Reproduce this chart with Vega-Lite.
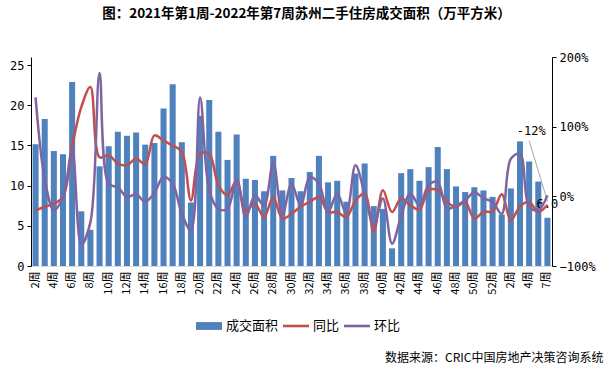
{
  "$schema": "https://vega.github.io/schema/vega-lite/v6.json",
  "width": 521,
  "height": 209,
  "autosize": {"type": "none"},
  "padding": {"left": 31, "top": 57, "right": 58, "bottom": 116},
  "background": "white",
  "title": {
    "text": "图：2021年第1周-2022年第7周苏州二手住房成交面积（万平方米）",
    "font": "Noto Sans CJK SC",
    "fontSize": 13.5,
    "fontWeight": "bold",
    "color": "#000000",
    "anchor": "middle",
    "frame": "group",
    "dx": 15,
    "offset": 31
  },
  "datasets": {
    "weeks": [
      {"cat": "2021-02", "area": 15.15, "同比": -0.20, "环比": 1.42},
      {"cat": "2021-03", "area": 18.3, "同比": -0.15, "环比": 0.25},
      {"cat": "2021-04", "area": 14.3, "同比": -0.105, "环比": -0.20},
      {"cat": "2021-05", "area": 13.9, "同比": -0.01, "环比": -0.01},
      {"cat": "2021-06", "area": 22.9, "同比": 0.71, "环比": 0.66},
      {"cat": "2021-07", "area": 6.8, "同比": 1.28, "环比": -0.69},
      {"cat": "2021-08", "area": 4.5, "同比": 1.57, "环比": -0.37},
      {"cat": "2021-09", "area": 12.4, "同比": 0.56, "环比": 1.77},
      {"cat": "2021-10", "area": 14.9, "同比": 0.59, "环比": 0.18},
      {"cat": "2021-11", "area": 16.7, "同比": 0.47, "环比": 0.13},
      {"cat": "2021-12", "area": 16.2, "同比": 0.445, "环比": -0.01},
      {"cat": "2021-13", "area": 16.6, "同比": 0.54, "环比": 0.03},
      {"cat": "2021-14", "area": 15.1, "同比": 0.46, "环比": -0.08},
      {"cat": "2021-15", "area": 15.3, "同比": 0.875, "环比": 0.05},
      {"cat": "2021-16", "area": 19.6, "同比": 0.80, "环比": 0.28},
      {"cat": "2021-17", "area": 22.6, "同比": 0.73, "环比": 0.18},
      {"cat": "2021-18", "area": 15.4, "同比": 0.64, "环比": -0.25},
      {"cat": "2021-19", "area": 7.9, "同比": -0.06, "环比": -0.49},
      {"cat": "2021-20", "area": 18.7, "同比": 0.61, "环比": 1.42},
      {"cat": "2021-21", "area": 20.65, "同比": 0.61, "环比": 0.09},
      {"cat": "2021-22", "area": 16.7, "同比": 0.16, "环比": -0.18},
      {"cat": "2021-23", "area": 13.2, "同比": 0.014, "环比": -0.18},
      {"cat": "2021-24", "area": 16.35, "同比": 0.23, "环比": 0.25},
      {"cat": "2021-25", "area": 10.85, "同比": -0.20, "环比": -0.30},
      {"cat": "2021-26", "area": 10.7, "同比": -0.105, "环比": 0.014},
      {"cat": "2021-27", "area": 9.3, "同比": -0.30, "环比": -0.13},
      {"cat": "2021-28", "area": 13.7, "同比": -0.01, "环比": 0.49},
      {"cat": "2021-29", "area": 9.4, "同比": -0.32, "环比": -0.27},
      {"cat": "2021-30", "area": 10.95, "同比": -0.25, "环比": 0.18},
      {"cat": "2021-31", "area": 9.3, "同比": -0.15, "环比": -0.13},
      {"cat": "2021-32", "area": 11.7, "同比": -0.08, "环比": 0.277},
      {"cat": "2021-33", "area": 13.7, "同比": -0.01, "环比": 0.18},
      {"cat": "2021-34", "area": 10.4, "同比": -0.225, "环比": -0.225},
      {"cat": "2021-35", "area": 10.6, "同比": -0.225, "环比": 0.04},
      {"cat": "2021-36", "area": 8.0, "同比": -0.30, "环比": -0.25},
      {"cat": "2021-37", "area": 11.5, "同比": -0.06, "环比": 0.445},
      {"cat": "2021-38", "area": 12.75, "同比": 0.04, "环比": 0.04},
      {"cat": "2021-39", "area": 7.45, "同比": -0.51, "环比": -0.416},
      {"cat": "2021-40", "area": 7.1, "同比": 0.086, "环比": -0.03},
      {"cat": "2021-41", "area": 2.2, "同比": -0.225, "环比": -0.68},
      {"cat": "2021-42", "area": 11.55, "同比": -0.03, "环比": -0.28},
      {"cat": "2021-43", "area": 12.05, "同比": -0.13, "环比": 0.04},
      {"cat": "2021-44", "area": 10.6, "同比": -0.19, "环比": -0.13},
      {"cat": "2021-45", "area": 12.3, "同比": 0.086, "环比": 0.16},
      {"cat": "2021-46", "area": 14.8, "同比": 0.086, "环比": 0.205},
      {"cat": "2021-47", "area": 12.05, "同比": -0.08, "环比": -0.177},
      {"cat": "2021-48", "area": 9.9, "同比": -0.15, "环比": -0.13},
      {"cat": "2021-49", "area": 9.2, "同比": -0.08, "环比": -0.06},
      {"cat": "2021-50", "area": 9.8, "同比": -0.32, "环比": 0.06},
      {"cat": "2021-51", "area": 9.4, "同比": -0.225, "环比": -0.03},
      {"cat": "2021-52", "area": 8.6, "同比": -0.215, "环比": -0.08},
      {"cat": "2022-01", "area": 6.4, "同比": 0.03, "环比": -0.25},
      {"cat": "2022-02", "area": 9.65, "同比": -0.345, "环比": 0.54},
      {"cat": "2022-03", "area": 15.5, "同比": -0.144, "环比": 0.61},
      {"cat": "2022-04", "area": 13.0, "同比": -0.08, "环比": -0.15},
      {"cat": "2022-05", "area": 10.5, "同比": -0.225, "环比": -0.20},
      {"cat": "2022-07", "area": 6.0, "同比": -0.12, "环比": 0.014}
    ],
    "ann": [
      {"cat": "2022-05", "pos": 0.94, "label": "-12%"}
    ],
    "leader": [
      {"cat": "2022-04", "pos": 0.80},
      {"cat": "2022-07", "pos": -0.07}
    ]
  },
  "layer": [
    {
      "data": {"name": "weeks"},
      "layer": [
        {
          "mark": {"type": "bar", "color": "#4F81BD"},
          "encoding": {
            "x": {
              "field": "cat",
              "type": "ordinal",
              "sort": "ascending",
              "scale": {"paddingInner": 0.34, "paddingOuter": 0.17},
              "axis": {
                "values": ["2021-02","2021-04","2021-06","2021-08","2021-10","2021-12","2021-14","2021-16","2021-18","2021-20","2021-22","2021-24","2021-26","2021-28","2021-30","2021-32","2021-34","2021-36","2021-38","2021-40","2021-42","2021-44","2021-46","2021-48","2021-50","2021-52","2022-02","2022-04","2022-07"],
                "labelExpr": "toNumber(slice(datum.label, 5)) + '周'",
                "labelAngle": -90,
                "labelPadding": 5,
                "labelFontSize": 11,
                "labelColor": "#000000",
                "labelFont": "Noto Sans CJK SC",
                "ticks": false,
                "domainColor": "#D9D9D9",
                "domainWidth": 1,
                "grid": false,
                "title": "数据来源：CRIC中国房地产决策咨询系统",
                "titleFont": "Noto Sans CJK SC",
                "titleFontSize": 12,
                "titleFontWeight": "normal",
                "titleColor": "#000000",
                "titleAlign": "right",
                "titleBaseline": "middle",
                "titleAnchor": "end",
                "titleX": 572,
                "titleY": 91
              }
            },
            "y": {
              "field": "area",
              "type": "quantitative",
              "scale": {"domain": [0, 25]},
              "axis": {
                "orient": "left",
                "values": [0, 5, 10, 15, 20, 25],
                "title": null,
                "grid": false,
                "domainColor": "#000000",
                "tickColor": "#000000",
                "tickSize": 4,
                "labelFontSize": 12,
                "labelColor": "#000000",
                "labelFont": "DejaVu Sans Mono",
                "labelPadding": 3
              }
            },
            "color": {
              "datum": "成交面积",
              "type": "nominal",
              "scale": {"domain": ["成交面积", "同比", "环比"], "range": ["#4F81BD", "#C0504D", "#8064A2"]},
              "legend": {
                "orient": "none",
                "legendX": 165,
                "legendY": 256,
                "direction": "horizontal",
                "title": null,
                "labelFont": "Noto Sans CJK SC",
                "labelFontSize": 13,
                "labelColor": "#000000",
                "symbolType": "M-1,-0.3H1V0.3H-1Z",
                "symbolSize": 676,
                "symbolStrokeWidth": 0,
                "labelOffset": 4,
                "columnPadding": 4,
                "encode": {
                  "symbols": {
                    "update": {
                      "shape": {"signal": "datum.value === '成交面积' ? 'M-1,-0.3H1V0.3H-1Z' : 'M-1,-0.1H1V0.1H-1Z'"},
                      "fill": {"signal": "scale('color', datum.value)"},
                      "strokeWidth": {"value": 0},
                      "opacity": {"value": 1}
                    }
                  }
                }
              }
            }
          }
        },
        {
          "transform": [{"filter": "datum.cat == '2022-07'"}],
          "mark": {"type": "text", "dy": -14, "fontSize": 12, "font": "DejaVu Sans Mono", "color": "#000000"},
          "encoding": {
            "x": {"field": "cat", "type": "ordinal", "sort": "ascending"},
            "y": {"field": "area", "type": "quantitative"},
            "text": {"field": "area", "type": "quantitative", "format": ".1f"}
          }
        }
      ]
    },
    {
      "layer": [
        {
          "data": {"name": "leader"},
          "mark": {"type": "line", "color": "#A6A6A6", "strokeWidth": 1},
          "encoding": {
            "x": {"field": "cat", "type": "ordinal", "sort": "ascending"},
            "y": {"field": "pos", "type": "quantitative", "scale": {"domain": [-1, 2]}}
          }
        },
        {
          "data": {"name": "ann"},
          "mark": {"type": "text", "dx": -7, "fontSize": 12, "font": "DejaVu Sans Mono", "color": "#000000"},
          "encoding": {
            "x": {"field": "cat", "type": "ordinal", "sort": "ascending"},
            "y": {"field": "pos", "type": "quantitative", "scale": {"domain": [-1, 2]}},
            "text": {"field": "label", "type": "nominal"}
          }
        },
        {
          "data": {"name": "weeks"},
          "transform": [{"fold": ["同比", "环比"], "as": ["series", "pct"]}],
          "mark": {"type": "line", "interpolate": "catmull-rom", "strokeWidth": 2.5},
          "encoding": {
            "x": {"field": "cat", "type": "ordinal", "sort": "ascending"},
            "y": {
              "field": "pct",
              "type": "quantitative",
              "scale": {"domain": [-1, 2]},
              "axis": {
                "orient": "right",
                "values": [-1, -0.5, 0, 0.5, 1, 1.5, 2],
                "format": ".0%",
                "title": null,
                "grid": false,
                "domainColor": "#000000",
                "tickColor": "#000000",
                "tickSize": 4,
                "labelFontSize": 12,
                "labelColor": "#000000",
                "labelFont": "DejaVu Sans Mono",
                "labelPadding": 3
              }
            },
            "color": {"field": "series", "type": "nominal", "sort": ["同比", "环比"], "legend": {"title": null}}
          }
        }
      ]
    }
  ],
  "resolve": {"scale": {"y": "independent"}},
  "config": {
    "view": {"stroke": null},
    "text": {"font": "Noto Sans CJK SC"},
    "legend": {"title": null}
  }
}
